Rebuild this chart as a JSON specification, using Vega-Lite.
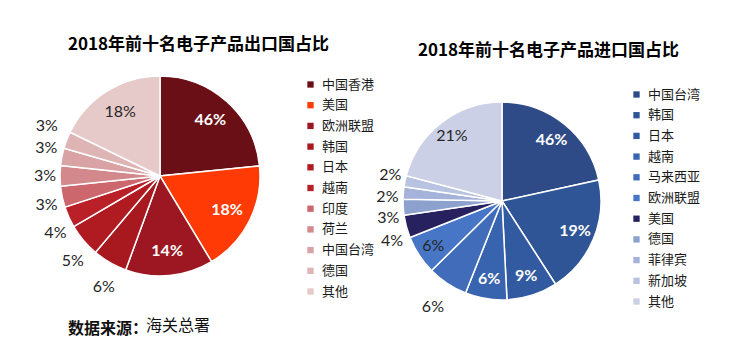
{
  "$schema": "https://vega.github.io/schema/vega-lite/v6.json",
  "padding": {"left": 30, "top": 35, "right": 0, "bottom": 0},
  "background": "#ffffff",
  "bounds": "flush",
  "spacing": 342,
  "resolve": {"scale": {"color": "independent", "theta": "independent"}, "legend": {"color": "independent"}},
  "title": {"text": "海关总署", "orient": "bottom", "anchor": "start", "frame": "group", "dx": 116, "offset": -19, "font": "Noto Sans CJK SC", "fontSize": 16, "fontWeight": "normal", "color": "#111111"},
  "datasets": {
    "export": [
      {"rank": 1, "name": "中国香港", "share": 23.4, "label": "46%"},
      {"rank": 2, "name": "美国", "share": 18.0, "label": "18%"},
      {"rank": 3, "name": "欧洲联盟", "share": 14.2, "label": "14%"},
      {"rank": 4, "name": "韩国", "share": 5.6, "label": "6%"},
      {"rank": 5, "name": "日本", "share": 5.4, "label": "5%"},
      {"rank": 6, "name": "越南", "share": 3.4, "label": "4%"},
      {"rank": 7, "name": "印度", "share": 3.4, "label": "3%"},
      {"rank": 8, "name": "荷兰", "share": 3.3, "label": "3%"},
      {"rank": 9, "name": "中国台湾", "share": 2.8, "label": "3%"},
      {"rank": 10, "name": "德国", "share": 2.75, "label": "3%"},
      {"rank": 11, "name": "其他", "share": 17.8, "label": "18%"}
    ],
    "import": [
      {"rank": 1, "name": "中国台湾", "share": 21.6, "label": "46%"},
      {"rank": 2, "name": "韩国", "share": 19.3, "label": "19%"},
      {"rank": 3, "name": "日本", "share": 8.3, "label": "9%"},
      {"rank": 4, "name": "越南", "share": 6.8, "label": "6%"},
      {"rank": 5, "name": "马来西亚", "share": 6.6, "label": "6%"},
      {"rank": 6, "name": "欧洲联盟", "share": 6.4, "label": "6%"},
      {"rank": 7, "name": "美国", "share": 3.7, "label": "4%"},
      {"rank": 8, "name": "德国", "share": 2.6, "label": "3%"},
      {"rank": 9, "name": "菲律宾", "share": 2.0, "label": "2%"},
      {"rank": 10, "name": "新加坡", "share": 1.8, "label": "2%"},
      {"rank": 11, "name": "其他", "share": 20.9, "label": "21%"}
    ]
  },
  "hconcat": [
    {
      "title": {"text": "数据来源：", "orient": "bottom", "anchor": "start", "frame": "group", "dx": 38, "offset": 11, "font": "Noto Sans CJK SC", "fontSize": 16, "fontWeight": "bold", "color": "#111111"},
      "vconcat": [
        {
          "width": 260,
          "height": 220,
          "title": {"text": "2018年前十名电子产品出口国占比", "anchor": "start", "frame": "group", "dx": 38, "offset": 6, "font": "Noto Sans CJK SC", "fontSize": 17, "fontWeight": "bold", "color": "#000000"},
          "data": {"name": "export"},
          "encoding": {
            "theta": {"field": "share", "type": "quantitative", "stack": true},
            "order": {"field": "rank", "type": "quantitative"},
            "detail": {"field": "name", "type": "nominal"}
          },
          "layer": [
            {
              "mark": {"type": "arc", "outerRadius": 100, "stroke": "#ffffff", "strokeWidth": 1.5},
              "encoding": {
                "color": {
                  "field": "name", "type": "nominal", "sort": null,
                  "scale": {
                    "domain": ["中国香港", "美国", "欧洲联盟", "韩国", "日本", "越南", "印度", "荷兰", "中国台湾", "德国", "其他"],
                    "range": ["#6A0F16", "#FF3A04", "#9C1722", "#A8181F", "#B01B22", "#BA2027", "#CB676D", "#D3898C", "#D9A2A4", "#DEB4B5", "#E6CACA"]
                  },
                  "legend": {"title": null, "orient": "none", "legendX": 274, "legendY": 12, "padding": 0, "symbolType": "square", "symbolSize": 40, "symbolStrokeWidth": 0, "labelFont": "Noto Sans CJK SC", "labelFontSize": 13, "labelColor": "#1a1a1a", "labelOffset": 5, "rowPadding": 6.7}
                }
              }
            },
            {
              "mark": {"type": "text", "radius": 75, "font": "Lato", "fontSize": 16, "fontWeight": "bold", "fill": "#ffffff"},
              "encoding": {
                "text": {"condition": {"test": "indexof(['中国香港','美国','欧洲联盟'], datum.name) >= 0", "field": "label", "type": "nominal"}, "value": ""}
              }
            },
            {
              "mark": {"type": "text", "radius": 75, "font": "Lato", "fontSize": 16, "fill": "#262626"},
              "encoding": {
                "text": {"condition": {"test": "datum.name == '其他'", "field": "label", "type": "nominal"}, "value": ""}
              }
            },
            {
              "mark": {"type": "text", "radius": 118, "dx": 3, "dy": 9, "font": "Lato", "fontSize": 16, "fill": "#262626"},
              "encoding": {
                "text": {"condition": {"test": "indexof(['韩国','日本','越南'], datum.name) >= 0", "field": "label", "type": "nominal"}, "value": ""}
              }
            },
            {
              "mark": {"type": "text", "radius": 118, "dx": 2, "dy": 4, "font": "Lato", "fontSize": 16, "fill": "#262626"},
              "encoding": {
                "text": {"condition": {"test": "datum.name == '印度'", "field": "label", "type": "nominal"}, "value": ""}
              }
            },
            {
              "mark": {"type": "text", "radius": 118, "dx": 3, "dy": 0, "font": "Lato", "fontSize": 16, "fill": "#262626"},
              "encoding": {
                "text": {"condition": {"test": "datum.name == '荷兰'", "field": "label", "type": "nominal"}, "value": ""}
              }
            },
            {
              "mark": {"type": "text", "radius": 118, "dx": 2, "dy": -5, "font": "Lato", "fontSize": 16, "fill": "#262626"},
              "encoding": {
                "text": {"condition": {"test": "datum.name == '中国台湾'", "field": "label", "type": "nominal"}, "value": ""}
              }
            },
            {
              "mark": {"type": "text", "radius": 118, "dx": -3, "dy": -8, "font": "Lato", "fontSize": 16, "fill": "#262626"},
              "encoding": {
                "text": {"condition": {"test": "datum.name == '德国'", "field": "label", "type": "nominal"}, "value": ""}
              }
            }
          ]
        }
      ]
    },
    {
      "width": 260,
      "height": 270,
      "title": {"text": "2018年前十名电子产品进口国占比", "anchor": "start", "frame": "group", "dx": 46, "offset": 6, "font": "Noto Sans CJK SC", "fontSize": 17, "fontWeight": "bold", "color": "#000000"},
      "data": {"name": "import"},
      "encoding": {
        "theta": {"field": "share", "type": "quantitative", "stack": true},
        "order": {"field": "rank", "type": "quantitative"},
        "detail": {"field": "name", "type": "nominal"}
      },
      "layer": [
        {
          "mark": {"type": "arc", "outerRadius": 99, "stroke": "#ffffff", "strokeWidth": 1.5},
          "encoding": {
            "color": {
              "field": "name", "type": "nominal", "sort": null,
              "scale": {
                "domain": ["中国台湾", "韩国", "日本", "越南", "马来西亚", "欧洲联盟", "美国", "德国", "菲律宾", "新加坡", "其他"],
                "range": ["#2E4B88", "#2F5597", "#325AA0", "#3863AE", "#416CBA", "#4876C6", "#27225F", "#8DA1CF", "#A5B2D9", "#B8C2E1", "#CBD0E6"]
              },
              "legend": {"title": null, "orient": "none", "legendX": 258, "legendY": 22, "padding": 0, "symbolType": "square", "symbolSize": 40, "symbolStrokeWidth": 0, "labelFont": "Noto Sans CJK SC", "labelFontSize": 13, "labelColor": "#1a1a1a", "labelOffset": 5, "rowPadding": 6.7}
            }
          }
        },
        {
          "mark": {"type": "text", "radius": 79, "font": "Lato", "fontSize": 16, "fontWeight": "bold", "fill": "#ffffff"},
          "encoding": {
            "text": {"condition": {"test": "indexof(['中国台湾','韩国','日本','越南'], datum.name) >= 0", "field": "label", "type": "nominal"}, "value": ""}
          }
        },
        {
          "mark": {"type": "text", "radius": 82, "font": "Lato", "fontSize": 16, "fill": "#262626"},
          "encoding": {
            "text": {"condition": {"test": "indexof(['欧洲联盟','其他'], datum.name) >= 0", "field": "label", "type": "nominal"}, "value": ""}
          }
        },
        {
          "mark": {"type": "text", "radius": 118, "dx": 4, "dy": -2, "font": "Lato", "fontSize": 16, "fill": "#262626"},
          "encoding": {
            "text": {"condition": {"test": "datum.name == '新加坡'", "field": "label", "type": "nominal"}, "value": ""}
          }
        },
        {
          "mark": {"type": "text", "radius": 118, "dx": 3, "dy": 6, "font": "Lato", "fontSize": 16, "fill": "#262626"},
          "encoding": {
            "text": {"condition": {"test": "datum.name == '菲律宾'", "field": "label", "type": "nominal"}, "value": ""}
          }
        },
        {
          "mark": {"type": "text", "radius": 118, "dx": 4, "dy": 10, "font": "Lato", "fontSize": 16, "fill": "#262626"},
          "encoding": {
            "text": {"condition": {"test": "indexof(['德国','美国'], datum.name) >= 0", "field": "label", "type": "nominal"}, "value": ""}
          }
        },
        {
          "mark": {"type": "text", "radius": 118, "dx": -4, "dy": 8, "font": "Lato", "fontSize": 16, "fill": "#262626"},
          "encoding": {
            "text": {"condition": {"test": "datum.name == '马来西亚'", "field": "label", "type": "nominal"}, "value": ""}
          }
        }
      ]
    }
  ],
  "config": {"view": {"stroke": null}}
}
